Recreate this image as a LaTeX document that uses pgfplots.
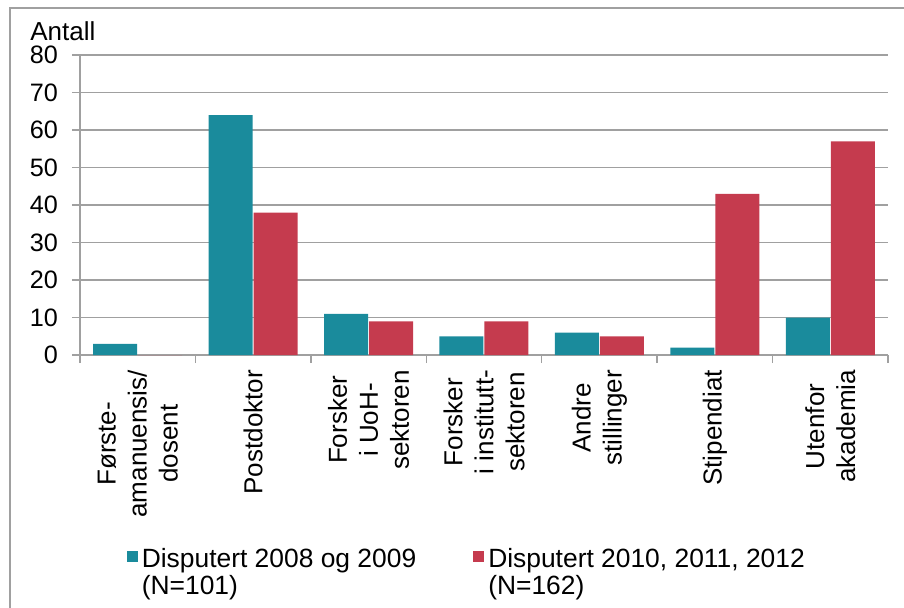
\documentclass[border=0pt]{standalone}
\usepackage{fontspec}
\setmainfont{Liberation Sans}
\usepackage{pgfplots}
\pgfplotsset{compat=1.18}
\definecolor{tealbar}{HTML}{1A8B9C}
\definecolor{redbar}{HTML}{C53B4E}
\definecolor{gridgray}{HTML}{A0A0A0}

\begin{document}
\begin{tikzpicture}
\useasboundingbox (0,0) rectangle (452pt,303.5pt);
\draw[gridgray, line width=0.75pt] (5pt,-2pt) -- (5pt,299.5pt) -- (454pt,299.5pt);
\node[anchor=base west, font=\fontsize{13}{15}\selectfont, inner sep=0pt] at (15pt,283.5pt) {Antall};
\begin{axis}[
  at={(40pt,126pt)}, anchor=south west,
  scale only axis, width=404pt, height=150pt,
  ybar=0.5pt, bar width=22pt,
  xmin=-0.5, xmax=6.5, ymin=0, ymax=80,
  ytick={0,10,...,80},
  xtick={0,...,6},
  xticklabels={{Første-\\amanuensis/\\dosent}, Postdoktor, {Forsker\\i UoH-\\sektoren},
    {Forsker\\i institutt-\\sektoren}, {Andre\\stillinger}, Stipendiat, {Utenfor\\akademia}},
  minor xtick={-0.5,0.5,...,6.5},
  major x tick style={draw=none},
  axis x line*=bottom, axis y line*=left,
  axis line style={-, gridgray, line width=0.75pt},
  ymajorgrids, grid style={gridgray, line width=0.75pt},
  tick style={gridgray, line width=0.75pt},
  tick align=outside,
  major tick length=4pt, minor tick length=4pt,
  /pgf/number format/assume math mode=true,
  yticklabel style={font=\fontsize{12.6}{14}\selectfont, xshift=-3.5pt},
  xticklabel style={font=\fontsize{13}{15.5}\selectfont, rotate=90, anchor=east, align=center},
  legend style={at={(0.05,-0.615)}, anchor=north west, draw=none, fill=none,
    legend columns=2, font=\fontsize{13.2}{13.6}\selectfont,
    nodes={align=left},
    /tikz/every even column/.append style={column sep=26.5pt}},
  legend image code/.code={\fill[#1] (0.5pt,5.25pt) rectangle (6pt,10.75pt);},
]
\addplot[fill=tealbar, draw=none] coordinates {(0,3) (1,64) (2,11) (3,5) (4,6) (5,2) (6,10)};
\addplot[fill=redbar, draw=none] coordinates {(0,0) (1,38) (2,9) (3,9) (4,5) (5,43) (6,57)};
\legend{{Disputert 2008 og 2009\\(N=101)}, {Disputert 2010, 2011, 2012\\(N=162)}}
\end{axis}
\end{tikzpicture}
\end{document}
